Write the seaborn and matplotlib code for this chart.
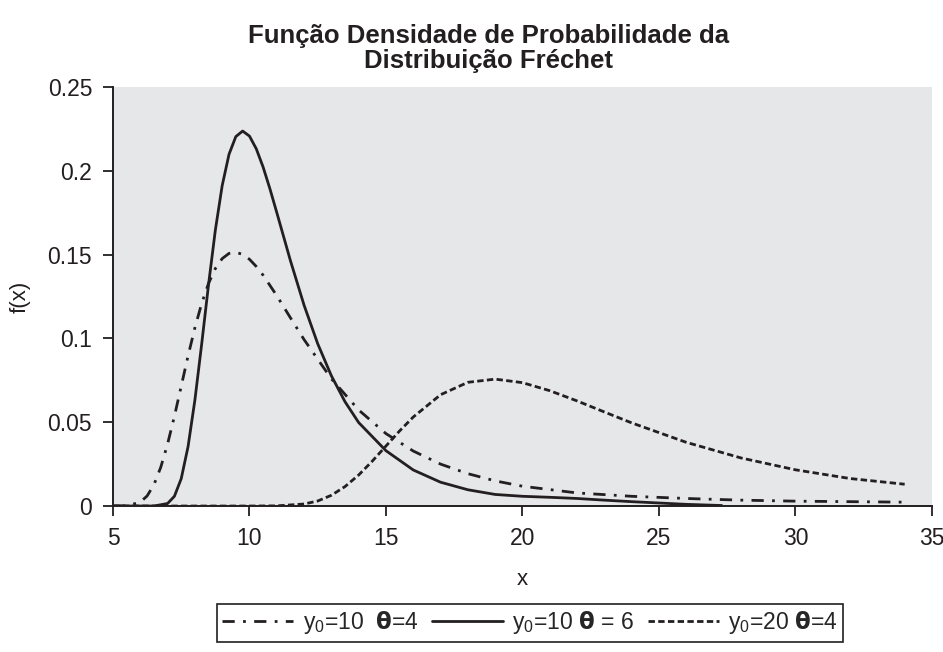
import pandas as pd
import seaborn as sns
import matplotlib.pyplot as plt

# values
x_dd = [5, 5.5, 6, 6.25, 6.5, 6.75, 7, 7.25, 7.5, 7.75, 8, 8.25, 8.5, 8.75, 9, 9.25, 9.5,
        9.75, 10, 10.25, 10.5, 11, 11.5, 12, 13, 14, 15, 16, 17, 18, 19, 20, 22, 24, 26,
        28, 30, 32, 34]
y_dd = [0, 0.0001, 0.0023, 0.006, 0.0127, 0.0231, 0.037, 0.0535, 0.0715, 0.0895, 0.1063,
        0.1209, 0.1328, 0.1417, 0.1476, 0.1507, 0.1514, 0.1501, 0.1472, 0.1429, 0.1377,
        0.1255, 0.1123, 0.0993, 0.0759, 0.0573, 0.0432, 0.0328, 0.025, 0.0193, 0.015,
        0.0118, 0.0078, 0.0058, 0.0045, 0.0035, 0.0029, 0.0026, 0.0023]

x_solid = [5, 6, 6.5, 7, 7.25, 7.5, 7.75, 8, 8.25, 8.5, 8.75, 9, 9.25, 9.5, 9.75, 10,
           10.25, 10.5, 10.75, 11, 11.5, 12, 12.5, 13, 13.5, 14, 15, 16, 17, 18, 19, 20,
           21, 22, 23, 24, 25, 26, 27.3]
y_solid = [0, 0, 0, 0.0015, 0.0058, 0.0163, 0.0354, 0.0631, 0.0967, 0.132, 0.1646,
           0.1911, 0.2098, 0.2204, 0.2237, 0.2207, 0.2131, 0.2022, 0.1892, 0.1751, 0.1464,
           0.1198, 0.0968, 0.0777, 0.0622, 0.0498, 0.033, 0.0215, 0.0142, 0.0097, 0.0069,
           0.0058, 0.0052, 0.0045, 0.0035, 0.0026, 0.0018, 0.001, 0.0003]

x_dot = [5, 8, 10, 11, 12, 12.5, 13, 13.5, 14, 14.5, 15, 15.5, 16, 17, 18, 19, 20, 21,
         22, 23, 24, 26, 28, 30, 32, 34]
y_dot = [0, 0, 0, 0.0001, 0.0012, 0.003, 0.0064, 0.0116, 0.0185, 0.0268, 0.0358, 0.0448,
         0.0531, 0.0664, 0.0738, 0.0757, 0.0736, 0.0688, 0.0627, 0.0561, 0.0496, 0.038,
         0.0287, 0.0216, 0.0164, 0.013]

labels = [r"y$_0$=10  $\mathbf{\theta}$=4",
          r"y$_0$=10 $\mathbf{\theta}$ = 6",
          r"y$_0$=20 $\mathbf{\theta}$=4"]
x_ticks = [5, 10, 15, 20, 25, 30, 35]
y_ticks = [0, 0.05, 0.1, 0.15, 0.2, 0.25]
y_tick_labels = ["0", "0.05", "0.1", "0.15", "0.2", "0.25"]


def main():
    sns.set_style("ticks")
    plt.rcParams['font.family'] = ['Liberation Sans', 'DejaVu Sans']
    plt.rcParams['mathtext.fontset'] = 'custom'
    plt.rcParams['mathtext.rm'] = 'Liberation Sans'
    plt.rcParams['mathtext.it'] = 'Liberation Sans'
    plt.rcParams['mathtext.bf'] = 'DejaVu Sans:bold'

    ink = "#231f20"
    fig = plt.figure(figsize=(9.43, 6.52), dpi=100)
    ax = fig.add_axes([0.1198, 0.2239, 0.8685, 0.6427])
    ax.set_facecolor("#e6e7e8")

    df_dd = pd.DataFrame({"x": x_dd, "f": y_dd})
    df_s = pd.DataFrame({"x": x_solid, "f": y_solid})
    df_dot = pd.DataFrame({"x": x_dot, "f": y_dot})

    sns.lineplot(data=df_dd, x="x", y="f", ax=ax, color=ink, lw=2.0,
                 linestyle=(0, (4.4, 3.0, 1, 3.0)), label=labels[0])
    sns.lineplot(data=df_s, x="x", y="f", ax=ax, color=ink, lw=2.0,
                 linestyle="-", label=labels[1])
    sns.lineplot(data=df_dot, x="x", y="f", ax=ax, color=ink, lw=2.0,
                 linestyle=(0, (2.3, 1.2)), label=labels[2])

    ax.set_xlim(5, 35)
    ax.set_ylim(0, 0.25)
    ax.set_xticks(x_ticks)
    ax.set_xticklabels([str(t) for t in x_ticks])
    ax.set_yticks(y_ticks)
    ax.set_yticklabels(y_tick_labels)
    ax.tick_params(axis="both", labelsize=16.5, length=7, width=1.3, color=ink,
                   labelcolor=ink, direction="out", pad=8)
    for side in ["top", "right"]:
        ax.spines[side].set_visible(False)
    for side in ["left", "bottom"]:
        ax.spines[side].set_color(ink)
        ax.spines[side].set_linewidth(1.4)

    ax.set_xlabel("x", fontsize=16, color=ink, labelpad=14)
    ax.set_ylabel("f(x)", fontsize=16, color=ink, labelpad=12)

    fig.text(0.518, 0.888, "Função Densidade de Probabilidade da\nDistribuição Fréchet",
             ha="center", va="bottom", fontsize=18.5, fontweight="bold", color=ink,
             linespacing=1.05)

    ax.legend(loc="center", bbox_to_anchor=(0.562, 0.0445), bbox_transform=fig.transFigure,
              ncol=3, fontsize=16.5, frameon=True, fancybox=False, edgecolor=ink,
              framealpha=1, handlelength=3.1, handletextpad=0.4, columnspacing=0.6,
              borderpad=0.25)
    ax.get_legend().get_frame().set_linewidth(1.2)

    plt.savefig("out.png", dpi=100)


if __name__ == "__main__":
    main()
